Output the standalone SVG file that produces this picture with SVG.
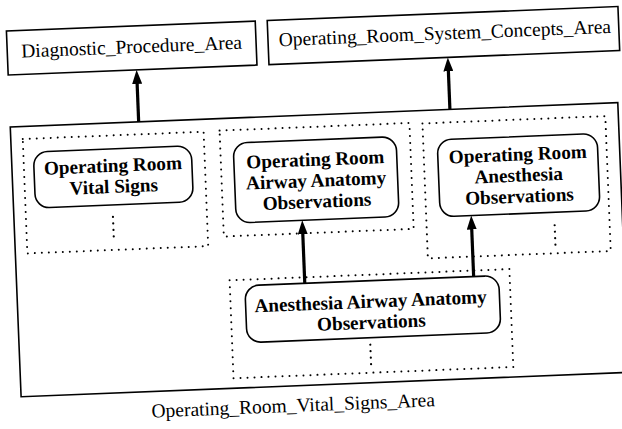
<svg xmlns="http://www.w3.org/2000/svg" width="622" height="429" viewBox="0 0 622 429">
  <style>
    .area { fill: #fff; stroke: #000; stroke-width: 1.6; }
    .group { fill: none; stroke: #000; stroke-width: 2; stroke-dasharray: 0 7; stroke-linecap: round; }
    .concept { fill: #fff; stroke: #000; stroke-width: 1.6; }
    .more { fill: none; stroke: #000; stroke-width: 2.2; stroke-dasharray: 0 6.5; stroke-linecap: round; }
    .label { font-family: "Liberation Serif", "Times New Roman", serif; font-size: 19.5px; fill: #000; }
    .title { font-family: "Liberation Serif", "Times New Roman", serif; font-size: 19.2px; font-weight: bold; fill: #000; text-anchor: middle; }
    .link { stroke: #000; stroke-width: 3.2; fill: none; marker-end: url(#head); }
  </style>
  <defs>
    <marker id="head" viewBox="0 0 14 10" refX="8" refY="5" markerWidth="14" markerHeight="10" markerUnits="userSpaceOnUse" orient="auto">
      <path d="M0,0 L14,5 L0,10 z" fill="#000"/>
    </marker>
  </defs>
  <rect width="622" height="429" fill="#fff"/>

  <g transform="rotate(-2.3 311 214)">
    <!-- enclosing area -->
    <g id="or-vital-signs-area">
      <rect class="area" x="14" y="115" width="608" height="270"/>
      <text class="label" x="285.5" y="411" text-anchor="middle">Operating_Room_Vital_Signs_Area</text>
    </g>

    <!-- upper areas -->
    <g id="diagnostic-procedure-area">
      <rect class="area" x="14" y="19" width="249" height="44"/>
      <text class="label" x="138.5" y="46" text-anchor="middle">Diagnostic_Procedure_Area</text>
    </g>
    <g id="or-system-concepts-area">
      <rect class="area" x="275" y="19" width="351" height="44"/>
      <text class="label" x="452" y="45" text-anchor="middle">Operating_Room_System_Concepts_Area</text>
    </g>

    <!-- concept groups -->
    <g id="or-vital-signs">
      <rect class="group" x="26" y="127.5" width="181" height="114.5"/>
      <rect class="concept" x="36" y="141" width="158" height="56" rx="14"/>
      <text class="title" x="115" y="164">Operating Room</text>
      <text class="title" x="115" y="185">Vital Signs</text>
      <line class="more" x1="113" y1="209" x2="113" y2="229"/>
    </g>

    <g id="or-airway-anatomy">
      <rect class="group" x="223" y="127" width="190" height="106"/>
      <rect class="concept" x="236" y="140" width="163" height="80" rx="14"/>
      <text class="title" x="317.5" y="166">Operating Room</text>
      <text class="title" x="317.5" y="187">Airway Anatomy</text>
      <text class="title" x="317.5" y="208">Observations</text>
    </g>

    <g id="or-anesthesia">
      <rect class="group" x="426" y="128" width="183" height="135"/>
      <rect class="concept" x="440" y="145" width="160" height="77" rx="14"/>
      <text class="title" x="520" y="169">Operating Room</text>
      <text class="title" x="520" y="190">Anesthesia</text>
      <text class="title" x="520" y="211">Observations</text>
      <line class="more" x1="554" y1="235" x2="554" y2="255"/>
    </g>

    <g id="anesthesia-airway-anatomy">
      <rect class="group" x="227" y="277" width="280" height="98"/>
      <rect class="concept" x="242" y="283" width="254" height="57" rx="14"/>
      <text class="title" x="367" y="310">Anesthesia Airway Anatomy</text>
      <text class="title" x="367" y="331">Observations</text>
      <line class="more" x1="365" y1="347" x2="365" y2="367"/>
    </g>

    <!-- connectors -->
    <g id="connectors">
      <line class="link" x1="142.5" y1="115" x2="142.5" y2="69"/>
      <line class="link" x1="454" y1="115" x2="454" y2="69"/>
      <line class="link" x1="302" y1="283" x2="302" y2="226"/>
      <line class="link" x1="471" y1="283" x2="471" y2="228"/>
    </g>
  </g>
</svg>
